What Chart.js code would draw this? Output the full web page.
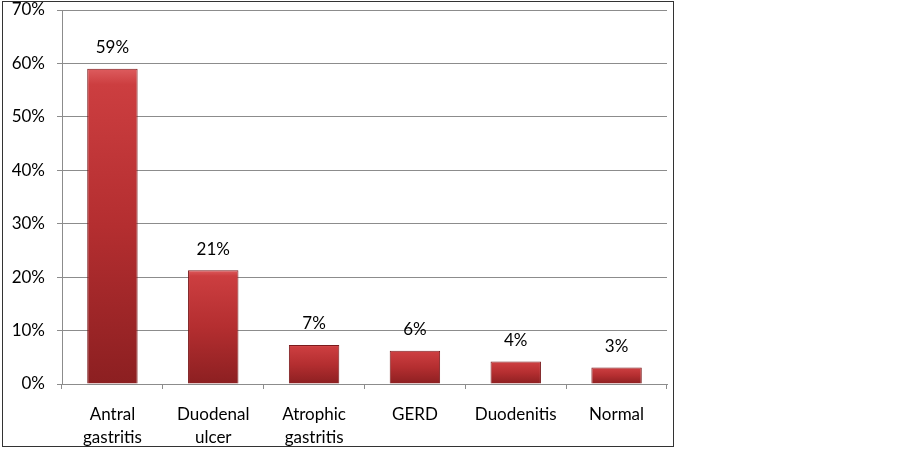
<!DOCTYPE html>
<html lang="en">
  <head>
    <meta charset="UTF-8" />
    <title>Endoscopic findings</title>
    <script src="https://cdn.jsdelivr.net/npm/chart.js@4.4.0/dist/chart.umd.min.js"></script>
    <style>
      html, body { margin: 0; padding: 0; background: #ffffff; }
      .wrap { position: relative; width: 902px; height: 449px; }
    </style>
  </head>
  <body>
    <div class="wrap">
      <canvas id="findingsChart" width="902" height="449"></canvas>
    </div>

    <script>
      // data
      const categories = [["Antral", "gastritis"], ["Duodenal", "ulcer"], ["Atrophic", "gastritis"], ["GERD"], ["Duodenitis"], ["Normal"]];
      const percentValues = [59, 21.3, 7.3, 6.2, 4.2, 3.1];
      const valueLabels = ["59%", "21%", "7%", "6%", "4%", "3%"];
      const yTicks = [0, 10, 20, 30, 40, 50, 60, 70];

      const FONT = "Lato, 'Liberation Sans', Arial, sans-serif";

      // bar fill: vertical gradient per bar, bright top, darker bottom
      function barFill(context) {
        const chart = context.chart;
        const y = chart.scales.y;
        if (!y || context.raw === undefined) return "#b83234";
        const top = y.getPixelForValue(context.raw);
        const bottom = y.getPixelForValue(0);
        if (!isFinite(top) || !isFinite(bottom) || top === bottom) return "#b83234";
        const g = chart.ctx.createLinearGradient(0, top, 0, bottom);
        g.addColorStop(0, "#dd5c5e");
        g.addColorStop(0.05, "#cc3e40");
        g.addColorStop(0.5, "#b42e30");
        g.addColorStop(1, "#8c1f21");
        return g;
      }

      // outer frame around the chart (drawn first so text sits on top)
      const framePlugin = {
        id: "frame",
        beforeDraw(chart) {
          const c = chart.ctx;
          c.save();
          c.strokeStyle = "#333333";
          c.lineWidth = 1;
          c.strokeRect(2.5, 1.5, 671, 445);
          c.restore();
        },
      };

      // percentage labels above each bar
      const valueLabelPlugin = {
        id: "valueLabels",
        afterDatasetsDraw(chart) {
          const c = chart.ctx;
          const meta = chart.getDatasetMeta(0);
          c.save();
          c.font = "17px " + FONT;
          c.fillStyle = "#000000";
          c.textAlign = "center";
          c.textBaseline = "middle";
          meta.data.forEach((bar, i) => {
            c.fillText(valueLabels[i], bar.x, bar.y - 21);
          });
          c.restore();
        },
      };

      const ctx = document.getElementById("findingsChart").getContext("2d");
      new Chart(ctx, {
        type: "bar",
        data: {
          labels: categories,
          datasets: [
            {
              data: percentValues,
              backgroundColor: barFill,
              borderColor: "#7a1a1c",
              borderWidth: 1,
              categoryPercentage: 1.0,
              barPercentage: 0.5,
            },
          ],
        },
        options: {
          responsive: false,
          animation: false,
          layout: { padding: { left: 0, right: 235, top: 10, bottom: 0 } },
          plugins: {
            legend: { display: false },
            tooltip: { enabled: false },
          },
          scales: {
            x: {
              afterFit(scale) {
                scale.height = 65;
                scale.paddingLeft = 0;
                scale.paddingRight = 0;
              },
              grid: {
                display: true,
                drawOnChartArea: false,
                drawTicks: true,
                tickLength: 5,
                color: "#8c8c8c",
                offset: true,
              },
              border: { display: true, color: "#8c8c8c", width: 1 },
              ticks: {
                color: "#000000",
                font: { family: FONT, size: 17, lineHeight: 1.35 },
                padding: 14,
                maxRotation: 0,
                autoSkip: false,
              },
            },
            y: {
              min: 0,
              max: 70,
              afterFit(scale) {
                scale.width = 62;
                scale.paddingTop = 0;
                scale.paddingBottom = 0;
              },
              afterBuildTicks(scale) {
                scale.ticks = yTicks.map((v) => ({ value: v }));
              },
              grid: {
                color: "#8c8c8c",
                tickLength: 5,
              },
              border: { display: true, color: "#8c8c8c", width: 1 },
              ticks: {
                color: "#000000",
                font: { family: FONT, size: 17 },
                padding: 12,
                callback: (v) => v + "%",
              },
            },
          },
        },
        plugins: [framePlugin, valueLabelPlugin],
      });
    </script>
  </body>
</html>
